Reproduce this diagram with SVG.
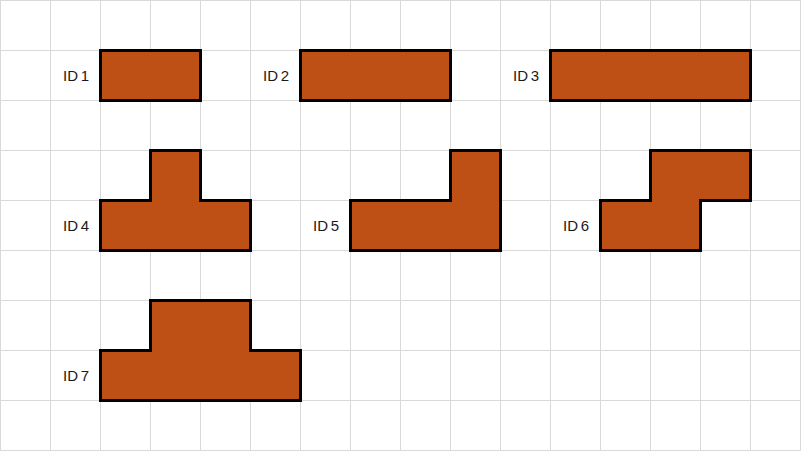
<svg xmlns="http://www.w3.org/2000/svg" width="801" height="451" viewBox="0 0 801 451">
<style>
.grid line{stroke:#d9d9d9;stroke-width:1}
.shape{fill:#bf5015;stroke:#000;stroke-width:3;stroke-linejoin:miter}
.lbl{font-family:"Liberation Sans",Arial,sans-serif;font-size:15px;fill:#1a1a1a;text-anchor:end;dominant-baseline:central;word-spacing:-1.5px}
</style>
<rect x="0" y="0" width="801" height="451" fill="#fff"/>
<g class="grid">
<line x1="0.5" y1="0" x2="0.5" y2="451"/><line x1="50.5" y1="0" x2="50.5" y2="451"/><line x1="100.5" y1="0" x2="100.5" y2="451"/><line x1="150.5" y1="0" x2="150.5" y2="451"/><line x1="200.5" y1="0" x2="200.5" y2="451"/><line x1="250.5" y1="0" x2="250.5" y2="451"/><line x1="300.5" y1="0" x2="300.5" y2="451"/><line x1="350.5" y1="0" x2="350.5" y2="451"/><line x1="400.5" y1="0" x2="400.5" y2="451"/><line x1="450.5" y1="0" x2="450.5" y2="451"/><line x1="500.5" y1="0" x2="500.5" y2="451"/><line x1="550.5" y1="0" x2="550.5" y2="451"/><line x1="600.5" y1="0" x2="600.5" y2="451"/><line x1="650.5" y1="0" x2="650.5" y2="451"/><line x1="700.5" y1="0" x2="700.5" y2="451"/><line x1="750.5" y1="0" x2="750.5" y2="451"/><line x1="800.5" y1="0" x2="800.5" y2="451"/>
<line x1="0" y1="0.5" x2="801" y2="0.5"/><line x1="0" y1="50.5" x2="801" y2="50.5"/><line x1="0" y1="100.5" x2="801" y2="100.5"/><line x1="0" y1="150.5" x2="801" y2="150.5"/><line x1="0" y1="200.5" x2="801" y2="200.5"/><line x1="0" y1="250.5" x2="801" y2="250.5"/><line x1="0" y1="300.5" x2="801" y2="300.5"/><line x1="0" y1="350.5" x2="801" y2="350.5"/><line x1="0" y1="400.5" x2="801" y2="400.5"/><line x1="0" y1="450.5" x2="801" y2="450.5"/>
</g>
<g id="id1"><path class="shape" d="M100.5 50.5H200.5V100.5H100.5Z"/><text class="lbl" x="89" y="75.5">ID 1</text></g>
<g id="id2"><path class="shape" d="M300.5 50.5H450.5V100.5H300.5Z"/><text class="lbl" x="289" y="75.5">ID 2</text></g>
<g id="id3"><path class="shape" d="M550.5 50.5H750.5V100.5H550.5Z"/><text class="lbl" x="539" y="75.5">ID 3</text></g>
<g id="id4"><path class="shape" d="M150.5 150.5H200.5V200.5H250.5V250.5H100.5V200.5H150.5Z"/><text class="lbl" x="89" y="225.5">ID 4</text></g>
<g id="id5"><path class="shape" d="M450.5 150.5H500.5V250.5H350.5V200.5H450.5Z"/><text class="lbl" x="339" y="225.5">ID 5</text></g>
<g id="id6"><path class="shape" d="M650.5 150.5H750.5V200.5H700.5V250.5H600.5V200.5H650.5Z"/><text class="lbl" x="589" y="225.5">ID 6</text></g>
<g id="id7"><path class="shape" d="M150.5 300.5H250.5V350.5H300.5V400.5H100.5V350.5H150.5Z"/><text class="lbl" x="89" y="375.5">ID 7</text></g>
<g id="connectors"/>
</svg>
